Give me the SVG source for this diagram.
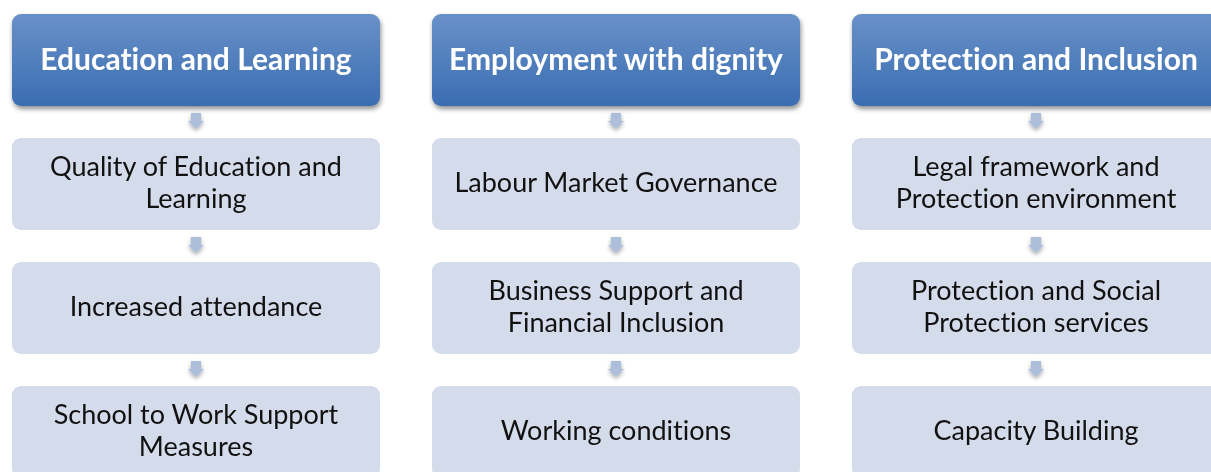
<svg xmlns="http://www.w3.org/2000/svg" width="1211" height="472" viewBox="0 0 1211 472">
<defs>
<linearGradient id="hg" x1="0" y1="0" x2="0" y2="1">
<stop offset="0" stop-color="#6991c8"/>
<stop offset="1" stop-color="#3b6db2"/>
</linearGradient>
<filter id="sh" x="-10%" y="-20%" width="120%" height="150%">
<feGaussianBlur in="SourceAlpha" stdDeviation="2.5"/>
<feOffset dx="1" dy="3" result="b"/>
<feComponentTransfer><feFuncA type="linear" slope="0.45"/></feComponentTransfer>
<feMerge><feMergeNode/><feMergeNode in="SourceGraphic"/></feMerge>
</filter>
<filter id="ash" x="-80%" y="-80%" width="260%" height="260%">
<feGaussianBlur in="SourceAlpha" stdDeviation="2"/>
<feOffset dx="0" dy="2"/>
<feComponentTransfer><feFuncA type="linear" slope="0.35"/></feComponentTransfer>
<feMerge><feMergeNode/><feMergeNode in="SourceGraphic"/></feMerge>
</filter>
<path id="arr" d="M-5,-8 L5,-8 L5,0 L8,0 L0,8 L-8,0 L-5,0 Z" fill="#adbedb"/>
</defs>
<style>
.hd{fill:url(#hg);filter:url(#sh)}
.bx{fill:#d4dbea}
.ht{font-family:Lato,"Open Sans",sans-serif;font-weight:bold;font-size:30px;fill:#fff;text-anchor:middle;font-variant-ligatures:none}
.ct{font-family:Lato,"Open Sans",sans-serif;font-size:27px;fill:#111;text-anchor:middle;font-variant-ligatures:none}
</style>
<g id="connectors" filter="url(#ash)">
<use href="#arr" x="196" y="121"/>
<use href="#arr" x="196" y="245"/>
<use href="#arr" x="196" y="369"/>
<use href="#arr" x="616" y="121"/>
<use href="#arr" x="616" y="245"/>
<use href="#arr" x="616" y="369"/>
<use href="#arr" x="1036" y="121"/>
<use href="#arr" x="1036" y="245"/>
<use href="#arr" x="1036" y="369"/>
</g>
<g id="h1"><rect class="hd" x="12" y="14" width="368" height="92" rx="9"/><text class="ht" x="196" y="70">Education and Learning</text></g>
<g id="h2"><rect class="hd" x="432" y="14" width="368" height="92" rx="9"/><text class="ht" x="616" y="70">Employment with dignity</text></g>
<g id="h3"><rect class="hd" x="852" y="14" width="368" height="92" rx="9"/><text class="ht" x="1036" y="70">Protection and Inclusion</text></g>
<g id="c1r1"><rect class="bx" x="12" y="138" width="368" height="92" rx="9"/><text class="ct" x="196" y="176">Quality of Education and</text><text class="ct" x="196" y="208">Learning</text></g>
<g id="c1r2"><rect class="bx" x="12" y="262" width="368" height="92" rx="9"/><text class="ct" x="196" y="316">Increased attendance</text></g>
<g id="c1r3"><rect class="bx" x="12" y="386" width="368" height="92" rx="9"/><text class="ct" x="196" y="424">School to Work Support</text><text class="ct" x="196" y="456">Measures</text></g>
<g id="c2r1"><rect class="bx" x="432" y="138" width="368" height="92" rx="9"/><text class="ct" x="616" y="192">Labour Market Governance</text></g>
<g id="c2r2"><rect class="bx" x="432" y="262" width="368" height="92" rx="9"/><text class="ct" x="616" y="300">Business Support and</text><text class="ct" x="616" y="332">Financial Inclusion</text></g>
<g id="c2r3"><rect class="bx" x="432" y="386" width="368" height="92" rx="9"/><text class="ct" x="616" y="440">Working conditions</text></g>
<g id="c3r1"><rect class="bx" x="852" y="138" width="368" height="92" rx="9"/><text class="ct" x="1036" y="176">Legal framework and</text><text class="ct" x="1036" y="208">Protection environment</text></g>
<g id="c3r2"><rect class="bx" x="852" y="262" width="368" height="92" rx="9"/><text class="ct" x="1036" y="300">Protection and Social</text><text class="ct" x="1036" y="332">Protection services</text></g>
<g id="c3r3"><rect class="bx" x="852" y="386" width="368" height="92" rx="9"/><text class="ct" x="1036" y="440">Capacity Building</text></g>
</svg>
